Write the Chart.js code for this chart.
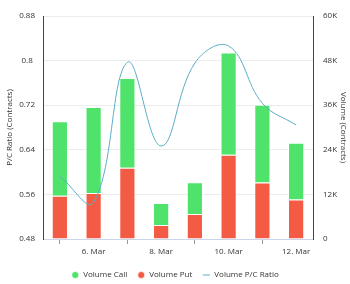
<!DOCTYPE html>
<html>
<head>
<meta charset="utf-8">
<script src="https://cdn.jsdelivr.net/npm/chart.js@4/dist/chart.umd.min.js"></script>
<style>
html,body{margin:0;padding:0;background:#fff;}
#wrap{width:350px;height:284px;position:relative;}
</style>
</head>
<body>
<div id="wrap"><canvas id="c" width="350" height="284"></canvas></div>
<script>
const categories = ['5. Mar','6. Mar','7. Mar','8. Mar','9. Mar','10. Mar','11. Mar','12. Mar'];
const volumeCall = [20000, 23100, 24100, 5900, 8600, 27500, 20900, 15300];
const volumePut  = [11650, 12400, 19200, 3800, 6700, 22700, 15200, 10600];
const pcRatio    = [0.5925, 0.5458, 0.797, 0.6468, 0.7957, 0.8262, 0.7234, 0.6845];
const leftTicks  = [0.48, 0.56, 0.64, 0.72, 0.8, 0.88];
const rightTicks = [0, 12000, 24000, 36000, 48000, 60000];

const FONT = 'Open Sans';
const legendRank = [1, 0, 2];

new Chart(document.getElementById('c'), {
  type: 'bar',
  data: {
    labels: categories,
    datasets: [
      {
        label: 'Volume Put', data: volumePut, yAxisID: 'y1', stack: 's',
        backgroundColor: '#f45b44', borderColor: 'rgba(255,255,255,0.7)', borderWidth: 1,
        pointStyle: 'circle', order: 0
      },
      {
        label: 'Volume Call', data: volumeCall, yAxisID: 'y1', stack: 's',
        backgroundColor: '#50e36c', borderColor: 'rgba(255,255,255,0.7)', borderWidth: 1,
        pointStyle: 'circle', order: 0
      },
      {
        type: 'line', label: 'Volume P/C Ratio', data: pcRatio, yAxisID: 'y',
        borderColor: '#5aaec8', backgroundColor: '#5aaec8', borderWidth: 1,
        pointRadius: 0, pointStyle: 'line', tension: 0.4, fill: false, order: -1
      }
    ]
  },
  options: {
    responsive: false,
    animation: false,
    layout: { padding: { top: 16, bottom: -5, left: 0, right: 0 } },
    datasets: { bar: { categoryPercentage: 1, barPercentage: 0.48 } },
    plugins: {
      tooltip: { enabled: false },
      legend: {
        position: 'bottom',
        labels: {
          usePointStyle: true, boxHeight: 5, padding: 10,
          color: '#333', font: { family: FONT, size: 8 },
          sort: (a, b) => legendRank[a.datasetIndex] - legendRank[b.datasetIndex]
        }
      }
    },
    scales: {
      x: {
        stacked: true,
        afterFit: s => { s.height = 22; },
        grid: { display: true, drawOnChartArea: false, drawTicks: true, tickLength: 5, color: '#999' },
        border: { color: '#ccd6eb' },
        ticks: {
          autoSkip: false, maxRotation: 0, padding: 3, color: '#333',
          font: { family: FONT, size: 8 },
          callback: function (v, i) { return i % 2 === 1 ? categories[i] : null; }
        }
      },
      y: {
        position: 'left', min: 0.48, max: 0.88,
        afterFit: s => { s.width = 43; },
        afterBuildTicks: s => { s.ticks = leftTicks.map(v => ({ value: v })); },
        grid: { color: '#ececec', drawTicks: false },
        border: { color: '#444', width: 1 },
        ticks: {
          padding: 8, crossAlign: 'center', color: '#333',
          font: { family: FONT, size: 8 },
          callback: v => String(+v.toFixed(2))
        },
        title: { display: true, text: 'P/C Ratio (Contracts)', color: '#333', font: { family: FONT, size: 8 }, padding: { top: 5, bottom: 0 } }
      },
      y1: {
        position: 'right', min: 0, max: 60000, stacked: true,
        afterFit: s => { s.width = 37; },
        afterBuildTicks: s => { s.ticks = rightTicks.map(v => ({ value: v })); },
        grid: { drawOnChartArea: false, drawTicks: false },
        border: { color: '#444', width: 1 },
        ticks: {
          padding: 10, color: '#333', font: { family: FONT, size: 8 },
          callback: v => v === 0 ? '0' : (v / 1000) + 'K'
        },
        title: { display: true, text: 'Volume (Contracts)', color: '#333', font: { family: FONT, size: 8 }, padding: { top: 2, bottom: 0 } }
      }
    }
  }
});
</script>
</body>
</html>
